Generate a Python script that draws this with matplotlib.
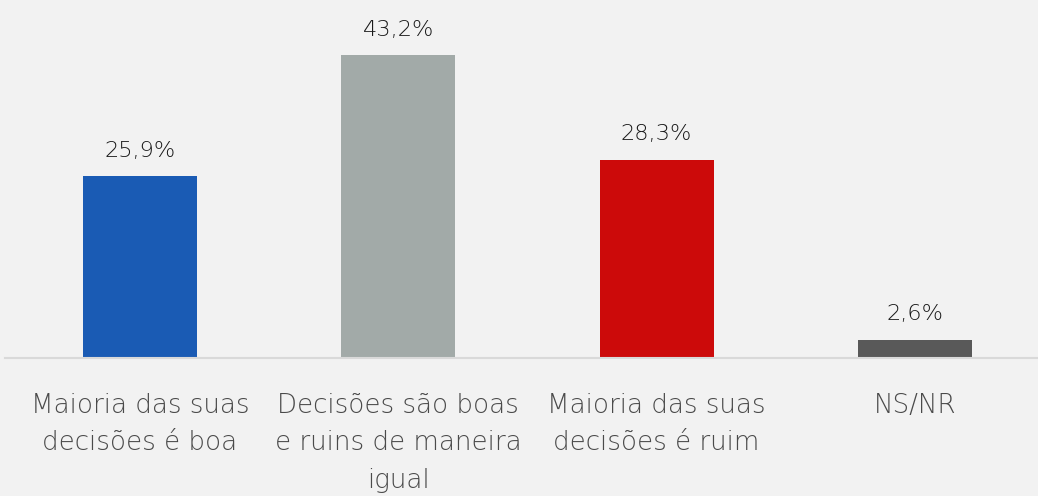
import matplotlib.pyplot as plt

categorias = ["Maioria das suas\ndecisões é boa",
              "Decisões são boas\ne ruins de maneira\nigual",
              "Maioria das suas\ndecisões é ruim",
              "NS/NR"]
valores = [25.9, 43.2, 28.3, 2.6]
rotulos = ["25,9%", "43,2%", "28,3%", "2,6%"]
cores = ["#1a5bb4", "#a2aaa8", "#cc0a0a", "#595959"]

plt.rcParams['font.family'] = ['DejaVu Sans']

fig = plt.figure(figsize=(10.38, 4.96), dpi=100, facecolor="#f2f2f2")
ax = fig.add_axes([5 / 1038, 138 / 496, 1 - 5 / 1038, 358 / 496])
ax.set_facecolor("#f2f2f2")

x = list(range(len(valores)))
ax.bar(x, valores, width=0.441, color=cores)

for xi, v, r in zip(x, valores, rotulos):
    ax.text(xi, v + 2.2, r, ha="center", va="bottom", fontsize=16.2,
            color="#1a1a1a", fontweight="light")

ax.set_xlim(-0.5226, 3.4766)
ax.set_ylim(0, 51.07)
ax.set_xticks(x)
ax.set_xticklabels(categorias, fontsize=18.8, color="#4a4a4a", linespacing=1.62,
                   fontweight="light")
ax.tick_params(axis="x", length=0, pad=25)
ax.set_yticks([])
for s in ["top", "right", "left"]:
    ax.spines[s].set_visible(False)
ax.spines["bottom"].set_color("#d9d9d9")
ax.spines["bottom"].set_linewidth(1.5)

fig.savefig("out.png", dpi=100, facecolor=fig.get_facecolor())
